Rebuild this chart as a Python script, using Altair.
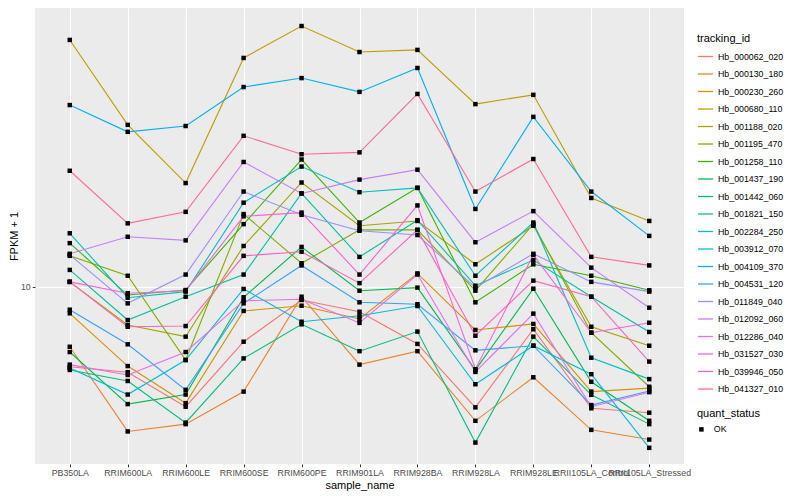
import altair as alt
import pandas as pd

samples = ["PB350LA", "RRIM600LA", "RRIM600LE", "RRIM600SE", "RRIM600PE", "RRIM901LA",
           "RRIM928BA", "RRIM928LA", "RRIM928LE", "RRII105LA_Control", "RRII105LA_Stressed"]

ids = ["Hb_000062_020", "Hb_000130_180", "Hb_000230_260", "Hb_000680_110", "Hb_001188_020",
       "Hb_001195_470", "Hb_001258_110", "Hb_001437_190", "Hb_001442_060", "Hb_001821_150",
       "Hb_002284_250", "Hb_003912_070", "Hb_004109_370", "Hb_004531_120", "Hb_011849_040",
       "Hb_012092_060", "Hb_012286_040", "Hb_031527_030", "Hb_039946_050", "Hb_041327_010"]

colors = ["#F8766D", "#EA8331", "#D89000", "#C09B00", "#A3A500", "#7CAE00", "#39B600", "#00BB4E",
          "#00BF7D", "#00C1A3", "#00BFC4", "#00BAE0", "#00B0F6", "#35A2FF", "#9590FF", "#C77CFF",
          "#E76BF3", "#FA62DB", "#FF62BC", "#FF6C91"]

# FPKM + 1 per sample (order as in `samples`)
hb_000062_020 = [5.42, 5.20, 3.99, 6.57, 9.05, 8.27, 6.46, 3.97, 7.23, 3.94, 3.81]
hb_000130_180 = [6.32, 3.30, 3.49, 4.48, 9.28, 5.51, 6.11, 3.58, 5.00, 3.34, 3.10]
hb_000230_260 = [8.17, 5.45, 4.10, 8.32, 8.66, 7.82, 11.1, 7.19, 7.53, 4.48, 4.60]
hb_000680_110 = [66.6, 34.7, 22.2, 58.0, 74.1, 60.7, 61.7, 40.7, 43.7, 19.8, 16.6]
hb_001188_020 = [10.4, 7.47, 6.83, 13.7, 22.3, 16.0, 16.6, 11.9, 16.0, 7.37, 6.37]
hb_001195_470 = [12.7, 10.9, 5.71, 17.5, 12.0, 15.5, 15.5, 9.72, 16.2, 7.04, 4.65]
hb_001258_110 = [14.0, 9.40, 9.77, 16.2, 26.6, 16.4, 21.4, 8.89, 11.9, 10.9, 9.75]
hb_001437_190 = [6.07, 4.07, 4.38, 9.24, 13.6, 9.72, 9.95, 5.29, 9.87, 4.83, 3.58]
hb_001442_060 = [5.29, 4.86, 3.53, 5.78, 7.51, 6.11, 7.10, 3.03, 6.83, 4.37, 3.49]
hb_001821_150 = [11.4, 7.76, 9.28, 11.0, 20.5, 12.6, 16.7, 10.1, 12.3, 9.28, 7.08]
hb_002284_250 = [15.1, 9.21, 9.65, 19.1, 25.2, 20.7, 21.4, 10.9, 16.4, 5.81, 4.93]
hb_003912_070 = [5.37, 4.38, 5.71, 9.85, 7.66, 8.02, 8.64, 4.74, 6.37, 5.12, 2.91]
hb_004109_370 = [40.4, 32.9, 34.4, 46.4, 49.7, 44.7, 53.7, 18.2, 36.9, 20.8, 14.8]
hb_004531_120 = [8.40, 6.44, 4.54, 8.82, 11.8, 8.89, 8.76, 6.15, 6.37, 4.04, 4.50]
hb_011849_040 = [12.8, 8.82, 11.0, 20.8, 17.4, 15.4, 14.9, 9.95, 12.9, 10.4, 9.65]
hb_012092_060 = [12.9, 14.7, 14.3, 26.1, 20.5, 22.8, 24.6, 14.1, 17.9, 11.6, 8.53]
hb_012286_040 = [5.51, 5.09, 6.07, 9.00, 9.10, 7.59, 11.0, 5.21, 8.15, 3.99, 4.46]
hb_031527_030 = [10.4, 9.53, 9.72, 17.2, 17.7, 11.0, 18.7, 5.32, 12.8, 7.04, 7.60]
hb_039946_050 = [10.4, 7.37, 7.41, 12.7, 13.1, 10.3, 15.5, 6.88, 10.5, 9.28, 5.64]
hb_041327_010 = [24.4, 16.3, 17.8, 31.9, 27.7, 28.1, 44.0, 20.8, 26.7, 12.6, 11.8]

series = [hb_000062_020, hb_000130_180, hb_000230_260, hb_000680_110, hb_001188_020,
          hb_001195_470, hb_001258_110, hb_001437_190, hb_001442_060, hb_001821_150,
          hb_002284_250, hb_003912_070, hb_004109_370, hb_004531_120, hb_011849_040,
          hb_012092_060, hb_012286_040, hb_031527_030, hb_039946_050, hb_041327_010]

rows = []
for tid, vals in zip(ids, series):
    for s, v in zip(samples, vals):
        rows.append({"tracking_id": tid, "sample_name": s, "fpkm": v, "quant_status": "OK"})
df = pd.DataFrame(rows)

FONT = "Liberation Sans"

x = alt.X("sample_name:N", sort=samples,
          scale=alt.Scale(type="point", padding=0.6),
          axis=alt.Axis(title="sample_name", labelAngle=0, labelOverlap=False,
                        labelPadding=2, titlePadding=2, grid=True))
y = alt.Y("fpkm:Q",
          scale=alt.Scale(type="log", domain=[2.57, 85.1], nice=False, zero=False),
          axis=alt.Axis(title="FPKM + 1", values=[10], format="d", labelPadding=2,
                        titlePadding=1, grid=True))

base = alt.Chart(df)

lines = base.mark_line(strokeWidth=1.1).encode(
    x=x, y=y,
    color=alt.Color("tracking_id:N",
                    scale=alt.Scale(domain=ids, range=colors),
                    legend=alt.Legend(title="tracking_id", orient="none", legendX=662, legendY=25,
                                      symbolType="stroke", symbolSize=225, symbolStrokeWidth=1.3,
                                      rowPadding=3.5, titlePadding=4, labelOffset=4)),
)

points = base.mark_point(filled=True, size=20, color="black", opacity=1).encode(
    x=x, y=y,
    shape=alt.Shape("quant_status:N", scale=alt.Scale(range=["square"]),
                    legend=alt.Legend(title="quant_status", orient="none", legendX=662, legendY=400,
                                      symbolSize=20, symbolFillColor="black", symbolStrokeColor="black",
                                      titlePadding=6, labelOffset=8)),
)

chart = alt.layer(lines, points).properties(
    width=649, height=456,
    padding={"left": 27, "top": 0, "right": 108, "bottom": 28},
    autosize=alt.AutoSizeParams(type="none"),
).configure_view(
    fill="#EBEBEB", stroke=None
).configure_axis(
    labelFont=FONT, labelFontSize=8.8, labelColor="#4D4D4D",
    titleFont=FONT, titleFontSize=11, titleFontWeight="normal", titleColor="black",
    tickColor="#333333", tickSize=2.75, domain=False,
    gridColor="white", gridWidth=1.07,
).configure_legend(
    titleFont=FONT, titleFontSize=11, titleFontWeight="normal", titleColor="black",
    labelFont=FONT, labelFontSize=8.8, labelColor="black",
)

chart.save("out.html", embed_options={"renderer": "svg", "actions": False})
